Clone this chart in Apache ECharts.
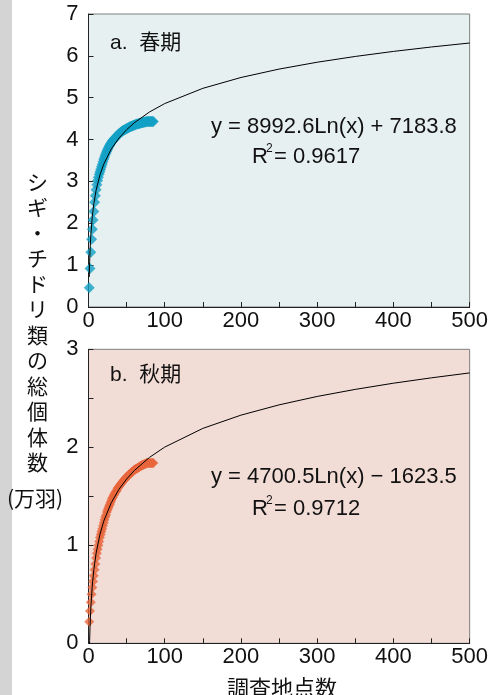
<!DOCTYPE html>
<html><head><meta charset="utf-8">
<script src="https://cdn.jsdelivr.net/npm/echarts@6/dist/echarts.min.js"></script>
<style>html,body{margin:0;padding:0;background:#fff}#c{width:491px;height:695px}</style>
</head><body><div id="c"></div>
<script>
// ---- data (values in 万羽) ----
const pointX = [1,2,3,4,5,6,7,8,9,10,11,12,13,14,15,16,17,18,19,20,21,22,23,24,25,26,27,28,29,30,31,32,33,34,35,36,37,38,39,40,41,42,43,44,45,46,47,48,49,50,51,52,53,54,55,56,57,58,59,60,61,62,63,64,65,66,67,68,69,70,71,72,73,74,75,76,77,78,79,80,81,82,83,84,85];
const springY = [0.46,0.92,1.31,1.62,1.86,2.08,2.28,2.50,2.66,2.80,2.92,3.02,3.10,3.17,3.23,3.29,3.35,3.41,3.47,3.53,3.58,3.63,3.68,3.72,3.76,3.80,3.84,3.87,3.90,3.93,3.96,3.98,4.00,4.02,4.04,4.06,4.08,4.10,4.12,4.14,4.15,4.17,4.18,4.20,4.21,4.22,4.23,4.24,4.25,4.26,4.27,4.28,4.29,4.30,4.31,4.32,4.32,4.33,4.34,4.35,4.35,4.36,4.37,4.37,4.38,4.38,4.39,4.39,4.40,4.40,4.41,4.41,4.42,4.42,4.42,4.43,4.43,4.43,4.43,4.43,4.43,4.43,4.43,4.43,4.43];
const autumnY = [0.22,0.33,0.42,0.50,0.57,0.63,0.69,0.75,0.81,0.87,0.92,0.96,1.00,1.04,1.08,1.11,1.14,1.17,1.20,1.23,1.26,1.29,1.31,1.34,1.36,1.38,1.40,1.42,1.44,1.46,1.48,1.49,1.51,1.52,1.54,1.55,1.56,1.58,1.59,1.60,1.61,1.62,1.63,1.64,1.65,1.66,1.67,1.68,1.69,1.70,1.70,1.71,1.72,1.73,1.73,1.74,1.75,1.75,1.76,1.77,1.77,1.78,1.78,1.79,1.79,1.80,1.80,1.81,1.81,1.82,1.82,1.82,1.83,1.83,1.83,1.84,1.84,1.84,1.84,1.84,1.84,1.84,1.84,1.84,1.84];
const trendX = [1,1.5,2,3,5,7,10,15,20,30,40,50,60,80,100,150,200,250,300,350,400,450,500];
const springTrend = [0.718,1.083,1.342,1.706,2.166,2.468,2.789,3.154,3.412,3.777,4.036,4.236,4.400,4.659,4.860,5.224,5.483,5.684,5.848,5.986,6.106,6.212,6.307];
const autumnTrend = [-0.162,0.028,0.163,0.354,0.594,0.752,0.920,1.111,1.246,1.436,1.572,1.676,1.762,1.897,2.002,2.193,2.328,2.433,2.519,2.591,2.654,2.709,2.759];
const panelLabels = ['a.  春期', 'b.  秋期'];
const equations = ['y = 8992.6Ln(x) + 7183.8', 'y = 4700.5Ln(x) − 1623.5'];
const r2Values = ['= 0.9617', '= 0.9712'];
const yTitle = 'シギ・チドリ類の総個体数';
const yUnit = '(万羽)';
const xTitle = '調査地点数';

// ---- chart ----
const NUM = "'Liberation Sans', 'Noto Sans CJK JP', sans-serif";
const JP = "'Noto Sans CJK JP', sans-serif";
const chart = echarts.init(document.getElementById('c'), null, {renderer: 'canvas'});
const pairs = (xs, ys) => xs.map((x, i) => [x, ys[i]]);

function mkX(gi) {
  return {type: 'value', gridIndex: gi, min: 0, max: 500, interval: 50,
    axisLine: {show: true, onZero: false, lineStyle: {color: '#222', width: 1}},
    axisTick: {show: true, inside: true, length: 5, lineStyle: {color: '#222'}},
    axisLabel: {margin: 3, fontSize: 22, fontFamily: NUM, color: '#111',
      formatter: v => (v % 100 === 0 ? String(v) : '')},
    splitLine: {show: false}};
}
function mkY(gi, max, interval) {
  return {type: 'value', gridIndex: gi, min: 0, max: max, interval: interval,
    axisLine: {show: true, onZero: false, lineStyle: {color: '#222', width: 1}},
    axisTick: {show: true, inside: true, length: 5, lineStyle: {color: '#222'}},
    axisLabel: {margin: 10, fontSize: 22, fontFamily: NUM, color: '#111',
      formatter: v => (Math.abs(v - Math.round(v)) < 1e-9 ? String(Math.round(v)) : '')},
    splitLine: {show: false}};
}

const graphics = [
  {type: 'rect', shape: {x: 0, y: 0, width: 12, height: 695}, style: {fill: '#d4d4d4'}, silent: true},
  {type: 'text', style: {text: panelLabels[0], x: 110, y: 43, font: '21px ' + NUM, fill: '#111', verticalAlign: 'middle', textVerticalAlign: 'middle'}},
  {type: 'text', style: {text: panelLabels[1], x: 110, y: 375, font: '21px ' + NUM, fill: '#111', verticalAlign: 'middle', textVerticalAlign: 'middle'}},
  {type: 'text', style: {text: equations[0], x: 211, y: 127, font: '22px ' + NUM, fill: '#111', verticalAlign: 'middle', textVerticalAlign: 'middle'}},
  {type: 'text', style: {text: 'R', x: 252, y: 157, font: '22px ' + NUM, fill: '#111', verticalAlign: 'middle', textVerticalAlign: 'middle'}},
  {type: 'text', style: {text: '2', x: 266, y: 149, font: '12px ' + NUM, fill: '#111', verticalAlign: 'middle', textVerticalAlign: 'middle'}},
  {type: 'text', style: {text: r2Values[0], x: 274, y: 157, font: '22px ' + NUM, fill: '#111', verticalAlign: 'middle', textVerticalAlign: 'middle'}},
  {type: 'text', style: {text: equations[1], x: 211, y: 477, font: '22px ' + NUM, fill: '#111', verticalAlign: 'middle', textVerticalAlign: 'middle'}},
  {type: 'text', style: {text: 'R', x: 252, y: 509, font: '22px ' + NUM, fill: '#111', verticalAlign: 'middle', textVerticalAlign: 'middle'}},
  {type: 'text', style: {text: '2', x: 266, y: 501, font: '12px ' + NUM, fill: '#111', verticalAlign: 'middle', textVerticalAlign: 'middle'}},
  {type: 'text', style: {text: r2Values[1], x: 274, y: 509, font: '22px ' + NUM, fill: '#111', verticalAlign: 'middle', textVerticalAlign: 'middle'}},
  {type: 'text', style: {text: yTitle.split('').join('\n'), x: 37.5, y: 169, font: '21px ' + JP, fill: '#111', align: 'center', textAlign: 'center', verticalAlign: 'top', textVerticalAlign: 'top', lineHeight: 25.5}},
  {type: 'text', style: {text: yUnit, x: 35, y: 498, font: '21px ' + JP, fill: '#111', align: 'center', textAlign: 'center', verticalAlign: 'middle', textVerticalAlign: 'middle'}},
  {type: 'text', style: {text: xTitle, x: 282, y: 688, font: '22px ' + JP, fill: '#111', align: 'center', textAlign: 'center', verticalAlign: 'middle', textVerticalAlign: 'middle'}}
];

chart.setOption({
  animation: false,
  backgroundColor: '#ffffff',
  grid: [
    {left: 88.5, top: 14, width: 382, height: 293, show: true, backgroundColor: '#e7f0f1', borderColor: '#7f7f7f', borderWidth: 1},
    {left: 88.5, top: 349.3, width: 382, height: 294, show: true, backgroundColor: '#f2dcd6', borderColor: '#7f7f7f', borderWidth: 1}
  ],
  xAxis: [mkX(0), mkX(1)],
  yAxis: [mkY(0, 7, 1), mkY(1, 3, 0.5)],
  series: [
    {type: 'scatter', xAxisIndex: 0, yAxisIndex: 0, symbol: 'diamond', symbolSize: 11,
      itemStyle: {color: '#13a0c5'}, data: pairs(pointX, springY), z: 2},
    {type: 'line', xAxisIndex: 0, yAxisIndex: 0, showSymbol: false, symbol: 'none', clip: true,
      lineStyle: {color: '#000', width: 1}, data: pairs(trendX, springTrend), z: 3},
    {type: 'scatter', xAxisIndex: 1, yAxisIndex: 1, symbol: 'diamond', symbolSize: 10,
      itemStyle: {color: '#e8673c'}, data: pairs(pointX, autumnY), z: 2},
    {type: 'line', xAxisIndex: 1, yAxisIndex: 1, showSymbol: false, symbol: 'none', clip: true,
      lineStyle: {color: '#000', width: 1}, data: pairs(trendX, autumnTrend), z: 3}
  ],
  graphic: graphics
});
</script></body></html>
